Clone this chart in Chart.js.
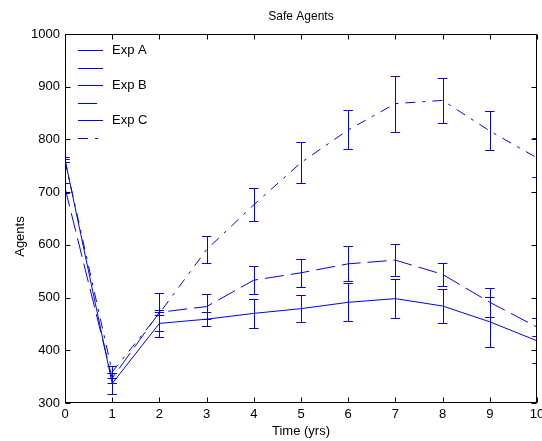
<!DOCTYPE html>
<html><head><meta charset="utf-8">
<script src="https://cdn.jsdelivr.net/npm/chart.js@4"></script>
<style>html,body{margin:0;padding:0;background:#fff;}canvas{display:block;}</style>
</head><body>
<canvas id="c" width="542" height="441"></canvas>
<script>
// ---- data ----
const years = [0, 1, 2, 3, 4, 5, 6, 7, 8, 9, 10];
const expA = [762, 337, 451, 459, 470, 479, 491, 498, 484, 454, 418];
const errA = [4, 19, 25, 13, 28, 26, 36, 37, 32, 47, 43];
const expB = [708, 347, 472, 483, 533, 547, 564, 571, 544, 491, 444];
const errB = [9, 9, 36, 23, 27, 26, 33, 31, 22, 27, 17];
const expC = [760, 359, 470, 591, 676, 756, 818, 868, 874, 816, 765];
const errC = [3, 12, 3, 25, 31, 39, 37, 53, 43, 37, 37];
const seriesNames = ['Exp A', 'Exp B', 'Exp C'];
const legendLabels = ['Exp A', '', 'Exp B', '', 'Exp C', ''];
const titleText = 'Safe Agents';
const xTitle = 'Time (yrs)';
const yTitle = 'Agents';

// ---- styles ----
const BLUE = '#0000ff';
const FONT = '"Liberation Sans", Arial, Helvetica, sans-serif';
const DASH_B = [19, 7];
const DASH_C = [10, 7, 3, 7];
const CAP_HALF = 0.1;

const valuesList = [expA, expB, expC];
const errorsList = [errA, errB, errC];
const dashList = [[], DASH_B, DASH_C];
const legendDash = [[], [], [], DASH_B, [], DASH_C];

const datasets = valuesList.map((vals, k) => ({
  label: seriesNames[k],
  data: years.map((yr, i) => ({x: yr, y: vals[i]})),
  borderColor: BLUE,
  backgroundColor: BLUE,
  borderWidth: 1,
  borderDash: dashList[k],
  pointRadius: 0,
  tension: 0,
  fill: false
}));

const errorBarPlugin = {
  id: 'errorBars',
  afterDatasetsDraw(chart) {
    const {ctx, chartArea: a, scales: {x, y}} = chart;
    ctx.save();
    ctx.beginPath();
    ctx.rect(a.left, a.top - 1, a.right - a.left, a.bottom - a.top + 2);
    ctx.clip();
    ctx.lineWidth = 1;
    ctx.setLineDash([]);
    valuesList.forEach((vals, k) => {
      const errs = errorsList[k];
      years.forEach((yr, i) => {
        const px = Math.round(x.getPixelForValue(yr)) + 0.5;
        const lo = Math.round(y.getPixelForValue(vals[i] - errs[i])) + 0.5;
        const hi = Math.round(y.getPixelForValue(vals[i] + errs[i])) + 0.5;
        const c0 = x.getPixelForValue(yr - CAP_HALF);
        const c1 = x.getPixelForValue(yr + CAP_HALF);
        ctx.strokeStyle = BLUE;
        ctx.beginPath();
        ctx.moveTo(px, lo); ctx.lineTo(px, hi);
        ctx.moveTo(c0, lo); ctx.lineTo(c1, lo);
        ctx.moveTo(c0, hi); ctx.lineTo(c1, hi);
        ctx.stroke();
      });
    });
    ctx.restore();
  },
  afterDraw(chart) {
    const {ctx, chartArea: a, scales: {x, y}} = chart;
    ctx.save();
    ctx.strokeStyle = '#000';
    ctx.lineWidth = 1;
    ctx.setLineDash([]);
    const L = Math.floor(a.left) + 0.5, R = Math.floor(a.right) - 0.5;
    const T = Math.floor(a.top) + 0.5, B = Math.floor(a.bottom) - 0.5;
    ctx.strokeRect(L, T, R - L, B - T);
    const TL = 5;
    ctx.beginPath();
    x.ticks.forEach(t => {
      const px = Math.round(x.getPixelForValue(t.value)) + 0.5;
      ctx.moveTo(px, B); ctx.lineTo(px, B - TL);
      ctx.moveTo(px, T); ctx.lineTo(px, T + TL);
    });
    y.ticks.forEach(t => {
      const py = Math.round(y.getPixelForValue(t.value)) + 0.5;
      ctx.moveTo(L, py); ctx.lineTo(L + TL, py);
      ctx.moveTo(R, py); ctx.lineTo(R - TL, py);
    });
    ctx.stroke();
    // legend (inside axes, no frame)
    ctx.font = '13px ' + FONT;
    ctx.textBaseline = 'middle';
    ctx.textAlign = 'left';
    legendLabels.forEach((lab, i) => {
      const ly = Math.round(a.top + 16 + i * 17.6) + 0.5;
      ctx.strokeStyle = BLUE;
      ctx.setLineDash(legendDash[i]);
      ctx.beginPath();
      ctx.moveTo(a.left + 13, ly); ctx.lineTo(a.left + 38, ly);
      ctx.stroke();
      ctx.fillStyle = '#000';
      if (lab) ctx.fillText(lab, a.left + 47, ly);
    });
    ctx.restore();
  }
};

new Chart(document.getElementById('c'), {
  type: 'line',
  data: {datasets},
  options: {
    responsive: false,
    animation: false,
    devicePixelRatio: 1,
    layout: {padding: 0},
    plugins: {
      legend: {display: false},
      tooltip: {enabled: false},
      title: {
        display: true, text: titleText, color: '#000', fullSize: false,
        font: {family: FONT, size: 12, weight: 'normal'},
        padding: {top: 9, bottom: 10.6}
      }
    },
    scales: {
      x: {
        type: 'linear', min: 0, max: 10,
        grid: {display: false, drawTicks: false},
        border: {display: false},
        ticks: {stepSize: 1, color: '#000', padding: 4, maxRotation: 0,
                font: {family: FONT, size: 13}, callback: v => String(v)},
        title: {display: true, text: xTitle, color: '#000',
                font: {family: FONT, size: 13}, padding: {top: 0, bottom: 2}},
        afterFit(s) { s.height = 38; s.paddingRight = 5; s.paddingLeft = 0; }
      },
      y: {
        type: 'linear', min: 300, max: 1000,
        grid: {display: false, drawTicks: false},
        border: {display: false},
        ticks: {stepSize: 100, color: '#000', padding: 5,
                font: {family: FONT, size: 13}, callback: v => String(v)},
        title: {display: true, text: yTitle + '          ', color: '#000',
                font: {family: FONT, size: 13}, padding: {top: 12.5, bottom: 0}},
        afterFit(s) { s.width = 65; }
      }
    }
  },
  plugins: [errorBarPlugin]
});
</script>
</body></html>
